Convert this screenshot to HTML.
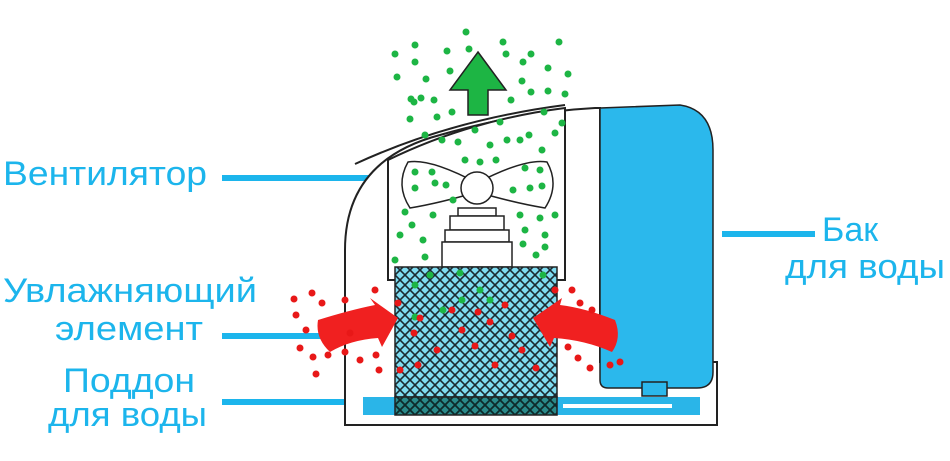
<!DOCTYPE html>
<html><head><meta charset="utf-8"><style>
html,body{margin:0;padding:0;background:#fff;}
svg{display:block;}
text{font-family:"Liberation Sans","DejaVu Sans",sans-serif;fill:#1cb5ec;font-size:34px;}
</style></head><body>
<svg width="950" height="461" viewBox="0 0 950 461" xmlns="http://www.w3.org/2000/svg">
<defs>
<pattern id="mesh" width="10" height="10" patternUnits="userSpaceOnUse">
<rect width="10" height="10" fill="#7fdcf0"/>
<path d="M0 0L10 10M10 0L0 10" stroke="#1a2a30" stroke-width="1.6"/>
</pattern>
<pattern id="mesh2" width="10" height="10" patternUnits="userSpaceOnUse">
<rect width="10" height="10" fill="#2a8a8a"/>
<path d="M0 0L10 10M10 0L0 10" stroke="#0d2a2a" stroke-width="1.8"/>
</pattern>
</defs>
<text x="3" y="185" textLength="204" lengthAdjust="spacingAndGlyphs">Вентилятор</text>
<text x="3" y="302" textLength="254" lengthAdjust="spacingAndGlyphs">Увлажняющий</text>
<text x="55" y="340" textLength="148" lengthAdjust="spacingAndGlyphs">элемент</text>
<text x="63" y="392" textLength="132" lengthAdjust="spacingAndGlyphs">Поддон</text>
<text x="48" y="426" textLength="159" lengthAdjust="spacingAndGlyphs">для воды</text>
<text x="822" y="241">Бак</text>
<text x="785" y="278" textLength="160" lengthAdjust="spacingAndGlyphs">для воды</text>
<g stroke="#1cb5ec" stroke-width="6">
<line x1="222" y1="178" x2="405" y2="178"/>
<line x1="222" y1="336" x2="400" y2="336"/>
<line x1="222" y1="402" x2="358" y2="402"/>
<line x1="722" y1="234" x2="815" y2="234"/>
</g>
<g stroke="#222" stroke-width="2" fill="#fff">
<path d="M345 425 L345 250 Q345 160 440 135 Q520 112 595 108 L600 108 L600 362 L717 362 L717 425 Z"/>
<path d="M388 160 Q470 120 565 108 L565 280 L388 280 Z"/>
<path d="M355 164 Q450 120 565 105" fill="none"/>
</g>
<rect x="363" y="397" width="337" height="18" fill="#2ab5e8"/>
<line x1="563" y1="406" x2="672" y2="406" stroke="#fff" stroke-width="4"/>
<path d="M600 108 L680 105 Q713 110 713 150 L713 372 Q713 388 697 388 L608 388 Q600 388 600 380 Z" fill="#2bb8ec" stroke="#222" stroke-width="1.5"/>
<rect x="642" y="382" width="25" height="14" fill="#2bb8ec" stroke="#222" stroke-width="1.5"/>
<g stroke="#222" stroke-width="1.5" fill="#fff">
<path d="M477 183 Q430 158 408 162 Q395 185 410 208 Q440 203 477 192 Z"/>
<path d="M477 183 Q525 158 547 162 Q560 185 545 208 Q515 203 477 192 Z"/>
<rect x="458" y="208" width="38" height="8"/>
<rect x="450" y="216" width="54" height="14"/>
<rect x="445" y="230" width="64" height="12"/>
<rect x="442" y="242" width="70" height="25"/>
<circle cx="477" cy="188" r="16"/>
</g>
<rect x="395" y="267" width="162" height="130" fill="url(#mesh)" stroke="#222" stroke-width="1.5"/>
<rect x="395" y="397" width="162" height="18" fill="url(#mesh2)" stroke="#222" stroke-width="1.5"/>
<path d="M478 52 L506 90 L488 90 L488 115 L468 115 L468 90 L450 90 Z" fill="#1db544" stroke="#222" stroke-width="1.5"/>
<path d="M318 320 Q350 310 375 305 L370 298 L398 318 L382 347 L378 338 Q350 340 330 352 Q315 338 318 320 Z" fill="#f02020"/>
<path d="M615 320 Q585 308 560 305 L562 298 L533 318 L550 347 L554 338 Q585 340 612 352 Q622 338 615 320 Z" fill="#f02020"/>
<g fill="#1db544">
<circle cx="395" cy="54" r="3.5"/><circle cx="415" cy="45" r="3.5"/><circle cx="466" cy="32" r="3.5"/><circle cx="415" cy="62" r="3.5"/><circle cx="447" cy="51" r="3.5"/><circle cx="469" cy="49" r="3.5"/><circle cx="503" cy="42" r="3.5"/><circle cx="559" cy="42" r="3.5"/><circle cx="506" cy="54" r="3.5"/><circle cx="531" cy="54" r="3.5"/><circle cx="523" cy="62" r="3.5"/><circle cx="548" cy="68" r="3.5"/><circle cx="568" cy="74" r="3.5"/><circle cx="397" cy="77" r="3.5"/><circle cx="426" cy="79" r="3.5"/><circle cx="450" cy="71" r="3.5"/><circle cx="421" cy="98" r="3.5"/><circle cx="414" cy="102" r="3.5"/><circle cx="434" cy="100" r="3.5"/><circle cx="452" cy="112" r="3.5"/><circle cx="437" cy="117" r="3.5"/><circle cx="410" cy="119" r="3.5"/><circle cx="411" cy="99" r="3.5"/><circle cx="522" cy="81" r="3.5"/><circle cx="531" cy="92" r="3.5"/><circle cx="548" cy="91" r="3.5"/><circle cx="565" cy="94" r="3.5"/><circle cx="511" cy="100" r="3.5"/><circle cx="544" cy="112" r="3.5"/><circle cx="562" cy="123" r="3.5"/><circle cx="500" cy="122" r="3.5"/><circle cx="520" cy="140" r="3.5"/><circle cx="475" cy="130" r="3.5"/><circle cx="425" cy="135" r="3.5"/><circle cx="442" cy="140" r="3.5"/><circle cx="458" cy="142" r="3.5"/><circle cx="490" cy="145" r="3.5"/><circle cx="507" cy="140" r="3.5"/><circle cx="529" cy="135" r="3.5"/><circle cx="555" cy="133" r="3.5"/><circle cx="542" cy="150" r="3.5"/><circle cx="465" cy="160" r="3.5"/><circle cx="480" cy="162" r="3.5"/><circle cx="496" cy="160" r="3.5"/><circle cx="525" cy="168" r="3.5"/><circle cx="540" cy="170" r="3.5"/><circle cx="415" cy="172" r="3.5"/><circle cx="432" cy="172" r="3.5"/><circle cx="415" cy="188" r="3.5"/><circle cx="435" cy="183" r="3.5"/><circle cx="446" cy="185" r="3.5"/><circle cx="530" cy="188" r="3.5"/><circle cx="542" cy="186" r="3.5"/><circle cx="513" cy="190" r="3.5"/><circle cx="453" cy="200" r="3.5"/><circle cx="405" cy="212" r="3.5"/><circle cx="433" cy="215" r="3.5"/><circle cx="520" cy="215" r="3.5"/><circle cx="540" cy="218" r="3.5"/><circle cx="555" cy="215" r="3.5"/><circle cx="412" cy="225" r="3.5"/><circle cx="423" cy="240" r="3.5"/><circle cx="400" cy="235" r="3.5"/><circle cx="525" cy="230" r="3.5"/><circle cx="545" cy="235" r="3.5"/><circle cx="425" cy="257" r="3.5"/><circle cx="395" cy="260" r="3.5"/><circle cx="536" cy="255" r="3.5"/><circle cx="523" cy="244" r="3.5"/><circle cx="545" cy="247" r="3.5"/><circle cx="430" cy="275" r="3.5"/><circle cx="460" cy="273" r="3.5"/><circle cx="543" cy="275" r="3.5"/><circle cx="415" cy="285" r="3.5"/><circle cx="480" cy="290" r="3.5"/><circle cx="462" cy="300" r="3.5"/><circle cx="443" cy="310" r="3.5"/><circle cx="490" cy="300" r="3.5"/><circle cx="415" cy="317" r="3.5"/>
</g>
<g fill="#e81818">
<circle cx="312" cy="293" r="3.5"/><circle cx="294" cy="299" r="3.5"/><circle cx="322" cy="303" r="3.5"/><circle cx="296" cy="315" r="3.5"/><circle cx="306" cy="330" r="3.5"/><circle cx="300" cy="348" r="3.5"/><circle cx="313" cy="357" r="3.5"/><circle cx="328" cy="355" r="3.5"/><circle cx="316" cy="374" r="3.5"/><circle cx="345" cy="352" r="3.5"/><circle cx="360" cy="360" r="3.5"/><circle cx="376" cy="355" r="3.5"/><circle cx="379" cy="370" r="3.5"/><circle cx="375" cy="290" r="3.5"/><circle cx="345" cy="300" r="3.5"/><circle cx="350" cy="333" r="3.5"/><circle cx="398" cy="303" r="3.5"/><circle cx="420" cy="318" r="3.5"/><circle cx="414" cy="333" r="3.5"/><circle cx="418" cy="365" r="3.5"/><circle cx="437" cy="350" r="3.5"/><circle cx="452" cy="310" r="3.5"/><circle cx="462" cy="330" r="3.5"/><circle cx="478" cy="312" r="3.5"/><circle cx="475" cy="346" r="3.5"/><circle cx="490" cy="322" r="3.5"/><circle cx="505" cy="305" r="3.5"/><circle cx="512" cy="336" r="3.5"/><circle cx="522" cy="350" r="3.5"/><circle cx="495" cy="365" r="3.5"/><circle cx="536" cy="368" r="3.5"/><circle cx="555" cy="290" r="3.5"/><circle cx="572" cy="290" r="3.5"/><circle cx="580" cy="303" r="3.5"/><circle cx="592" cy="310" r="3.5"/><circle cx="568" cy="347" r="3.5"/><circle cx="578" cy="358" r="3.5"/><circle cx="590" cy="368" r="3.5"/><circle cx="610" cy="365" r="3.5"/><circle cx="620" cy="362" r="3.5"/><circle cx="400" cy="370" r="3.5"/>
</g>
</svg>
</body></html>
